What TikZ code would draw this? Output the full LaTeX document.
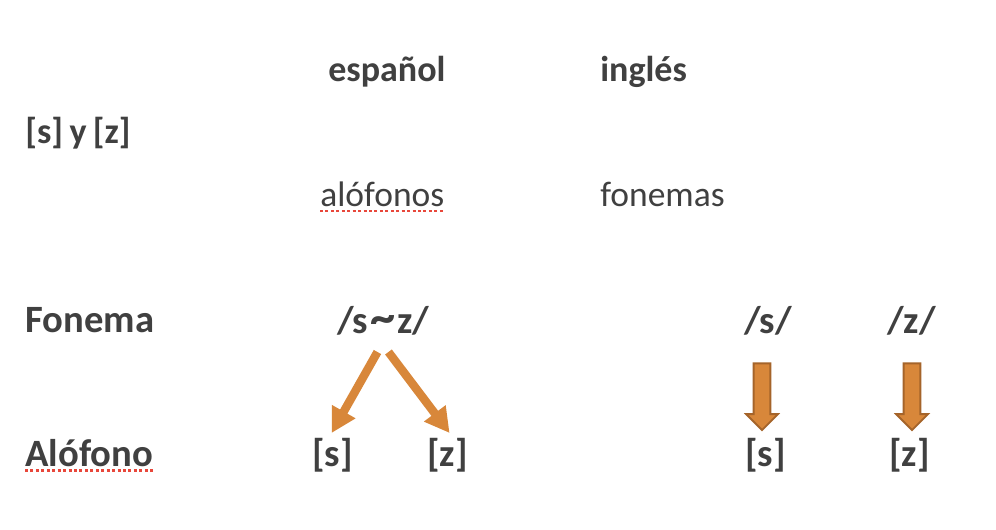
\documentclass[tikz,border=0pt]{standalone}
\usepackage{fontspec}
\setmainfont{Carlito}
\usepackage{tikz}
\usetikzlibrary{shapes,arrows.meta,positioning,calc}
\definecolor{txtgray}{HTML}{404040}
\definecolor{arroworange}{HTML}{D8873A}
\definecolor{arrowedge}{HTML}{A5642A}
\definecolor{spellred}{HTML}{E8473B}
\tikzstyle{head}=[font=\fontsize{22}{26}\selectfont\bfseries, text=txtgray, inner sep=0pt, anchor=base west]
\tikzstyle{title}=[font=\fontsize{20.5}{25}\selectfont\bfseries, text=txtgray, inner sep=0pt, anchor=base west]
\tikzstyle{word}=[font=\fontsize{20.2}{25}\selectfont, text=txtgray, inner sep=0pt, anchor=base west]
\tikzstyle{arrow1}=[draw=arroworange, line width=4.8pt, -{Triangle[width=14.5pt,length=14pt]}]
\tikzstyle{arrow2}=[single arrow, draw=arrowedge, fill=arroworange, line width=1.1pt, inner xsep=0pt, inner ysep=4.25pt, single arrow head extend=4.25pt, minimum height=38pt, rotate=-90]
\tikzstyle{squiggle}=[draw=spellred, line width=1.4pt, dash pattern=on 1.7pt off 1.4pt]

\begin{document}
\begin{tikzpicture}[x=0.02cm,y=-0.02cm]
\useasboundingbox (0,0) rectangle (996,530);
%Row One
\node[title] (esp) at (328,81.7){español};
\node[title] (ing) at (600,82){inglés};
\node[title] (syz) at (25,144){[s]\kern-1pt{} y\kern-1pt{} [z]};
\node[word] (alo) at (320,206){alófonos};
\node[word] (fon) at (600,206){fonemas};
\draw[squiggle] ($(alo.base west)+(0,5)$) -- ($(alo.base east)+(0,5)$);
%Row Two
\node[head] (fonema) at (25,332){Fonema};
\node[head] (sz) at (337,333){/s\kern1.2pt\scalebox{1.3}[1.25]{\textasciitilde}\kern1.2pt z/};
\node[head] (fs) at (744,333){/s/};
\node[head] (fz) at (887,333){/z/};
%Row Three
\node[head] (alofono) at (25,466.7){Alófono};
\draw[squiggle] ($(alofono.base west)+(0,4)$) -- ($(alofono.base east)+(0,4)$);
\node[head] (sl) at (312,466){[s]};
\node[head] (zl) at (427,466){[z]};
\node[head] (sr) at (745,466){[s]};
\node[head] (zr) at (889,466){[z]};
%Arrows
\draw[arrow1] ($(sz.base)+(-6,19)$) -- ($(sl.base)+(-1,-33)$);
\draw[arrow1] ($(sz.base)+(5,19)$) -- ($(zl.base)+(2,-33)$);
\node[arrow2] (ar1) at (762,392.5){};
\node[arrow2] (ar2) at (912,392.5){};
\end{tikzpicture}
\end{document}
